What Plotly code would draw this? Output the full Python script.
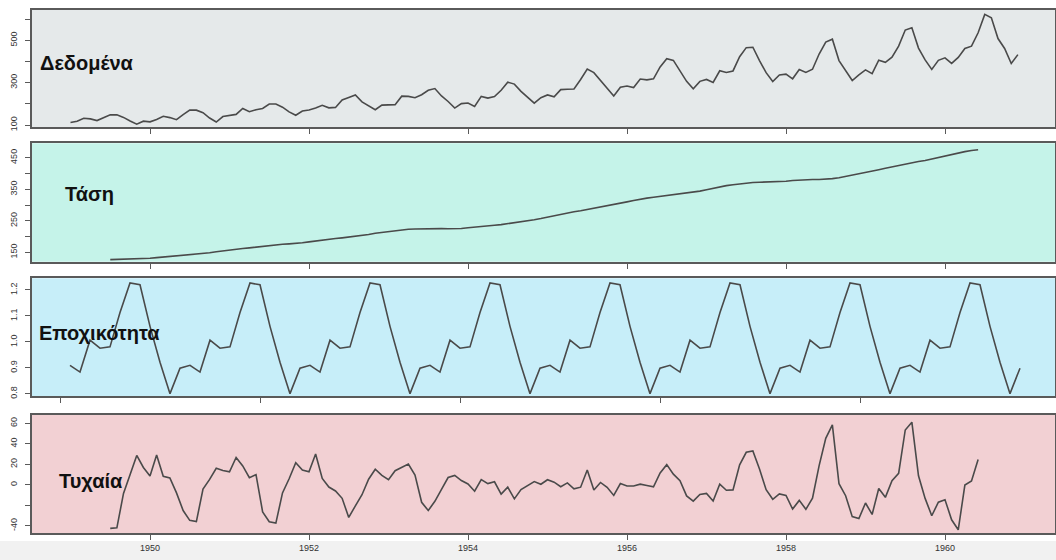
import plotly.graph_objects as go

# ---------------- data ----------------
start_year = 1949
passengers = [
    112, 118, 132, 129, 121, 135, 148, 148, 136, 119, 104, 118,
    115, 126, 141, 135, 125, 149, 170, 170, 158, 133, 114, 140,
    145, 150, 178, 163, 172, 178, 199, 199, 184, 162, 146, 166,
    171, 180, 193, 181, 183, 218, 230, 242, 209, 191, 172, 194,
    196, 196, 236, 235, 229, 243, 264, 272, 237, 211, 180, 201,
    204, 188, 235, 227, 234, 264, 302, 293, 259, 229, 203, 229,
    242, 233, 267, 269, 270, 315, 364, 347, 312, 274, 237, 278,
    284, 277, 317, 313, 318, 374, 413, 405, 355, 306, 271, 306,
    315, 301, 356, 348, 355, 422, 465, 467, 404, 347, 305, 336,
    340, 318, 362, 348, 363, 435, 491, 505, 404, 359, 310, 337,
    360, 342, 406, 396, 420, 472, 548, 559, 463, 407, 362, 405,
    417, 391, 419, 461, 472, 535, 622, 606, 508, 461, 390, 432,
]

# trend: Jul 1949 .. Jun 1960
trend = [
    126.79, 127.25, 127.96, 128.58, 129.00, 129.75,
    131.25, 133.08, 134.92, 136.42, 137.42, 138.75, 140.92, 143.17, 145.71, 148.42, 151.54, 154.71,
    157.13, 159.54, 161.83, 164.13, 166.67, 169.08, 171.25, 173.58, 175.46, 176.83, 178.04, 180.17,
    183.13, 186.21, 189.04, 191.29, 193.58, 195.83, 198.04, 199.75, 202.21, 206.25, 210.42, 213.38,
    215.83, 218.50, 220.92, 222.92, 224.08, 224.71, 225.33, 225.33, 224.96, 224.58, 224.46, 225.54,
    228.00, 230.46, 232.25, 233.92, 235.63, 237.75, 240.50, 243.96, 247.17, 250.25, 253.50, 257.13,
    261.83, 266.67, 271.13, 275.21, 278.50, 281.96, 285.75, 289.33, 293.25, 297.17, 301.00, 305.46,
    309.96, 314.42, 318.63, 321.75, 324.50, 327.08, 329.54, 331.83, 334.46, 337.54, 340.54, 344.08,
    348.25, 353.00, 357.63, 361.38, 364.50, 367.17, 369.46, 371.21, 372.17, 372.42, 372.75, 373.63,
    375.25, 377.92, 379.50, 380.00, 380.71, 380.96, 381.83, 383.67, 386.50, 390.33, 394.71, 398.63,
    402.54, 407.17, 411.88, 416.33, 420.50, 425.50, 430.71, 435.13, 437.71, 440.96, 445.83, 450.63,
    456.33, 461.38, 465.21, 469.33, 472.75, 475.04,
]

# seasonal factors (one year, repeated over the 8 years shown in that panel)
seasonal_pattern = [0.910, 0.884, 1.007, 0.976, 0.981, 1.113,
                    1.227, 1.220, 1.060, 0.922, 0.801, 0.899]
seasonal_years_shown = 8

# random component: Jul 1949 .. Jun 1960
random_part = [
    -42.62, -42.07, -8.48, 11.06, 28.59, 16.87,
    8.50, 29.11, 8.32, 6.62, -7.91, -25.15, -34.75, -35.99, -4.23, 5.22, 16.05, 13.91,
    12.62, 26.65, 18.41, 6.91, 9.84, -26.48, -36.08, -37.40, -7.98, 5.81, 21.55, 14.45,
    12.62, 29.98, 6.20, -2.25, -6.07, -13.23, -31.87, -20.57, -9.73, 5.39, 15.17, 9.24,
    4.92, 13.69, 17.32, 20.12, 9.43, -17.11, -25.16, -16.15, -4.48, 7.06, 9.13, 4.08,
    0.75, -6.27, 4.99, 1.12, 2.88, -9.15, -2.33, -13.78, -4.69, -0.61, 3.09, 0.49,
    4.92, 2.52, -1.89, 1.83, -3.99, -2.36, 14.42, -5.15, 2.23, -2.53, -10.41, 1.16,
    -1.21, -1.23, 0.61, -0.71, -1.99, 11.52, 19.63, 10.35, 4.02, -10.90, -15.95, -9.46,
    -8.50, -15.81, 0.61, -5.34, -4.99, 19.43, 31.71, 32.97, 15.31, -4.78, -14.16, -9.01,
    -10.50, -23.73, -15.26, -23.96, -13.20, 18.64, 45.34, 58.51, 0.98, -10.69, -31.12, -33.01,
    -17.79, -28.98, -3.64, -12.29, 4.01, 11.10, 53.46, 61.05, 8.77, -13.32, -30.24, -17.01,
    -14.58, -34.19, -43.97, -0.29, 3.76, 24.56,
]

panel_titles = ["Δεδομένα", "Τάση", "Εποχικότητα", "Τυχαία"]
year_ticks = [1950, 1952, 1954, 1956, 1958, 1960]

# ---------------- time indexes ----------------
t_full = [start_year + i / 12 for i in range(len(passengers))]
t_mid = [start_year + (i + 6) / 12 for i in range(len(trend))]
seasonal = seasonal_pattern * seasonal_years_shown
t_seas = [start_year + i / 12 for i in range(len(seasonal))]

# ---------------- layout helpers ----------------
W, H = 1056, 560
def py(px):
    return 1 - px / H
def pxx(px):
    return px / W

x_dom = [pxx(32), pxx(1055)]
panels = [(9.5, 127), (143.3, 261.7), (278.3, 396), (415, 533)]
bgs = ["#E5E9EA", "#C5F3E9", "#C7EEF9", "#F2D0D3"]

line_style = dict(color="#4a4a4a", width=1.6)
frame = "#5a5a5a"
tickfont = dict(family="Liberation Sans, Arial, sans-serif", size=9, color="#333333")

fig = go.Figure()
fig.add_trace(go.Scatter(x=t_full, y=passengers, mode="lines", line=line_style, xaxis="x", yaxis="y", hoverinfo="skip"))
fig.add_trace(go.Scatter(x=t_mid, y=trend, mode="lines", line=line_style, xaxis="x2", yaxis="y2", hoverinfo="skip"))
fig.add_trace(go.Scatter(x=t_seas, y=seasonal, mode="lines", line=line_style, xaxis="x3", yaxis="y3", hoverinfo="skip"))
fig.add_trace(go.Scatter(x=t_mid, y=random_part, mode="lines", line=line_style, xaxis="x4", yaxis="y4", hoverinfo="skip"))

# x-range for the full-time panels: 1949 at 70.5 px, 79.5 px per year
full_range = [1949 + (32 - 70.5) / 79.5, 1949 + (1055 - 70.5) / 79.5]
# seasonal panel: 1949 at 70 px, 120 px per year
seas_range = [1949 + (32 - 70) / 120, 1949 + (1055 - 70) / 120]
seas_ticks = [1949 + (p - 70) / 120 for p in (60, 260, 460, 660, 860)]

y_ranges = [[90.6, 645], [120.2, 495.7], [0.792, 1.245], [-47.1, 68.1]]
y_tickvals = [[100, 200, 300, 400, 500, 600],
              [150, 200, 250, 300, 350, 400, 450],
              [0.8, 0.9, 1.0, 1.1, 1.2],
              [-40, -20, 0, 20, 40, 60]]
y_ticktext = [["100", "", "300", "", "500", ""],
              ["150", "", "250", "", "350", "", "450"],
              ["0.8", "0.9", "1.0", "1.1", "1.2"],
              ["-40", "", "0", "20", "40", "60"]]

layout = dict(
    width=W, height=H,
    margin=dict(l=0, r=0, t=0, b=0),
    paper_bgcolor="white",
    plot_bgcolor="white",
    showlegend=False,
    shapes=[],
    annotations=[],
)

for k in range(4):
    sfx = "" if k == 0 else str(k + 1)
    top, bot = panels[k]
    common_x = dict(
        domain=x_dom, anchor="y" + sfx, showgrid=False, zeroline=False,
        showline=True, mirror=True, linecolor=frame, linewidth=1.6,
        ticks="outside", ticklen=5, tickcolor=frame, tickwidth=1,
        tickfont=tickfont, automargin=False,
    )
    if k == 2:
        common_x.update(range=seas_range, tickmode="array", tickvals=seas_ticks,
                        ticktext=[""] * len(seas_ticks))
    else:
        common_x.update(range=full_range, tickmode="array", tickvals=year_ticks,
                        ticktext=[str(v) for v in year_ticks] if k == 3 else [""] * len(year_ticks))
    layout["xaxis" + sfx] = common_x
    layout["yaxis" + sfx] = dict(
        domain=[py(bot), py(top)], anchor="x" + sfx, range=y_ranges[k],
        showgrid=False, zeroline=False,
        showline=True, mirror=True, linecolor=frame, linewidth=1.6,
        ticks="outside", ticklen=5, tickcolor=frame, tickwidth=1,
        tickmode="array", tickvals=y_tickvals[k], ticktext=y_ticktext[k],
        tickangle=-90, tickfont=tickfont, automargin=False,
        ticklabelstandoff=5,
    )
    layout["shapes"].append(dict(
        type="rect", xref="paper", yref="paper", layer="below",
        x0=x_dom[0], x1=x_dom[1], y0=py(bot), y1=py(top),
        fillcolor=bgs[k], line=dict(width=0),
    ))

# light grey band at the very bottom of the screenshot
layout["shapes"].append(dict(
    type="rect", xref="paper", yref="paper", layer="below",
    x0=0, x1=1, y0=0, y1=py(541), fillcolor="#F1F1F1", line=dict(width=0),
))

title_pos = [(38, 63), (63, 194), (37, 333), (57, 481)]
for k, (tx, ty) in enumerate(title_pos):
    layout["annotations"].append(dict(
        text="<b>" + panel_titles[k] + "</b>", xref="paper", yref="paper",
        x=pxx(tx), y=py(ty), xanchor="left", yanchor="middle", showarrow=False,
        font=dict(family="Liberation Sans, Arial, sans-serif", size=20, color="#111111"),
    ))

fig.update_layout(**layout)
fig.write_html("out.html")
